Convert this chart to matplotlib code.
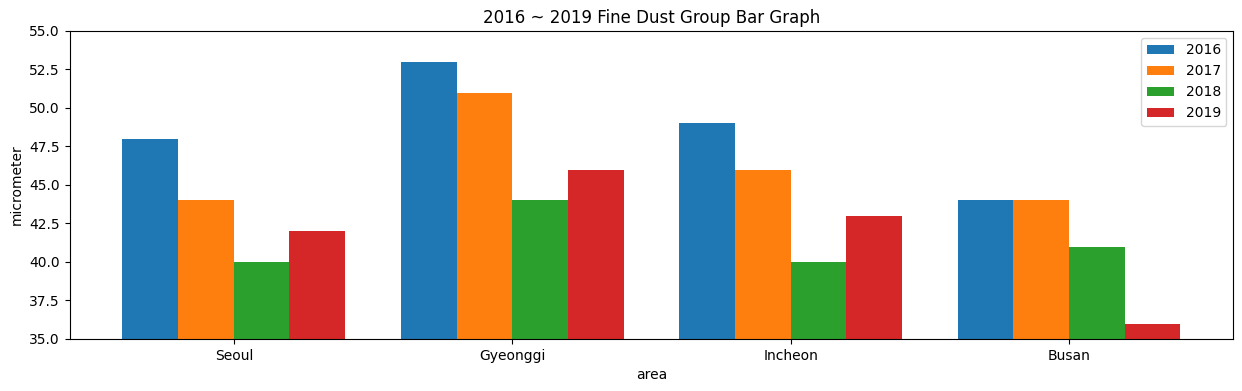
import numpy as np
import matplotlib
matplotlib.use("Agg")
import matplotlib.pyplot as plt

areas = ["Seoul", "Gyeonggi", "Incheon", "Busan"]
years = ["2016", "2017", "2018", "2019"]
dust_2016 = [48, 53, 49, 44]
dust_2017 = [44, 51, 46, 44]
dust_2018 = [40, 44, 40, 41]
dust_2019 = [42, 46, 43, 36]

series = [dust_2016, dust_2017, dust_2018, dust_2019]

fig, ax = plt.subplots(figsize=(12.42, 3.91), dpi=100)
fig.subplots_adjust(left=0.056, right=0.993, top=0.921, bottom=0.133)

x = np.arange(len(areas))
w = 0.2
for i, (yr, vals) in enumerate(zip(years, series)):
    ax.bar(x + (i - 1.5) * w, vals, width=w, label=yr)

ax.set_ylim(35, 55)
ax.set_xticks(x)
ax.set_xticklabels(areas)
ax.set_xlabel("area")
ax.set_ylabel("micrometer")
ax.set_title("2016 ~ 2019 Fine Dust Group Bar Graph")
ax.legend(loc="upper right")

plt.savefig("out.png")
